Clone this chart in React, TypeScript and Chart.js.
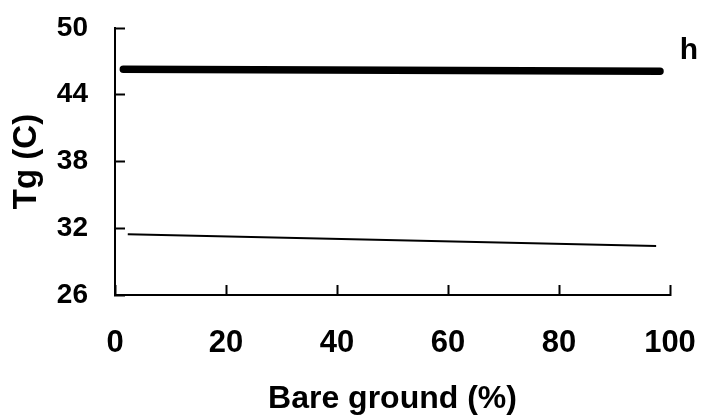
import React, { useEffect, useRef } from "react";
import { Chart, registerables } from "chart.js";

Chart.register(...registerables);

// Data
const thickX = [1.5, 98.2];
const thickY = [46.3, 46.12];
const thinX = [2.3, 97.5];
const thinY = [31.45, 30.4];
const yTicks = [26, 32, 38, 44, 50];
const xTicks = [0, 20, 40, 60, 80, 100];
const seriesLabel = "h";
const xTitle = "Bare ground (%)";
const yTitle = "Tg (C)";

const FONT = "'Liberation Sans', Arial, Helvetica, sans-serif";

const labelPlugin = {
  id: "seriesLabel",
  afterDatasetsDraw(chart: any) {
    const { ctx, scales } = chart;
    const xs = scales.x;
    const ys = scales.y;
    ctx.save();
    ctx.fillStyle = "#000";
    ctx.font = `bold 30px ${FONT}`;
    ctx.textAlign = "center";
    ctx.textBaseline = "middle";
    ctx.fillText(seriesLabel, xs.getPixelForValue(xTicks[xTicks.length - 1]) + 19, ys.getPixelForValue(48.0));
    ctx.restore();
  },
};

export default function App() {
  const ref = useRef<HTMLCanvasElement | null>(null);
  useEffect(() => {
    document.body.style.margin = "0";
    const canvas = ref.current!;
    const chart = new Chart(canvas, {
      type: "line",
      data: {
        datasets: [
          {
            data: thickX.map((x, i) => ({ x, y: thickY[i] })),
            borderColor: "#000",
            borderWidth: 7.5,
            borderCapStyle: "round",
            pointRadius: 0,
            tension: 0,
          },
          {
            data: thinX.map((x, i) => ({ x, y: thinY[i] })),
            borderColor: "#000",
            borderWidth: 2,
            pointRadius: 0,
            tension: 0,
          },
        ],
      },
      options: {
        responsive: false,
        animation: false,
        layout: { padding: { left: 0, right: 32, top: 28, bottom: 0 } },
        plugins: { legend: { display: false }, tooltip: { enabled: false } },
        scales: {
          x: {
            type: "linear",
            min: xTicks[0],
            max: xTicks[xTicks.length - 1],
            afterBuildTicks: (s: any) => {
              s.ticks = xTicks.map((v) => ({ value: v }));
            },
            afterFit: (s: any) => {
              s.height = 123;
              s.paddingLeft = 0;
              s.paddingRight = 0;
            },
            border: { display: true, color: "#000", width: 2 },
            grid: { drawOnChartArea: false, drawTicks: true, tickLength: -10, tickWidth: 2, tickColor: "#000" },
            ticks: {
              color: "#000",
              padding: 40,
              maxRotation: 0,
              autoSkip: false,
              font: { family: FONT, size: 31, weight: "bold" },
            },
            title: {
              display: true,
              text: xTitle,
              color: "#000",
              font: { family: FONT, size: 32, weight: "bold" },
              padding: { top: 0, bottom: 0 },
            },
          },
          y: {
            type: "linear",
            min: yTicks[0],
            max: yTicks[yTicks.length - 1],
            afterBuildTicks: (s: any) => {
              s.ticks = yTicks.map((v) => ({ value: v }));
            },
            afterFit: (s: any) => {
              s.width = 115;
              s.paddingTop = 0;
              s.paddingBottom = 0;
            },
            border: { display: true, color: "#000", width: 2 },
            grid: { drawOnChartArea: false, drawTicks: true, tickLength: -10, tickWidth: 2, tickColor: "#000" },
            ticks: {
              color: "#000",
              padding: 37,
              autoSkip: false,
              font: { family: FONT, size: 28, weight: "bold" },
            },
            title: {
              display: true,
              text: yTitle,
              color: "#000",
              font: { family: FONT, size: 33, weight: "bold" },
              padding: { top: 7, bottom: 0 },
            },
          },
        },
      } as any,
      plugins: [labelPlugin],
    });
    return () => chart.destroy();
  }, []);
  return (
    <div style={{ width: 702, height: 418, background: "#fff" }}>
      <canvas ref={ref} width={702} height={418} style={{ display: "block" }} />
    </div>
  );
}
